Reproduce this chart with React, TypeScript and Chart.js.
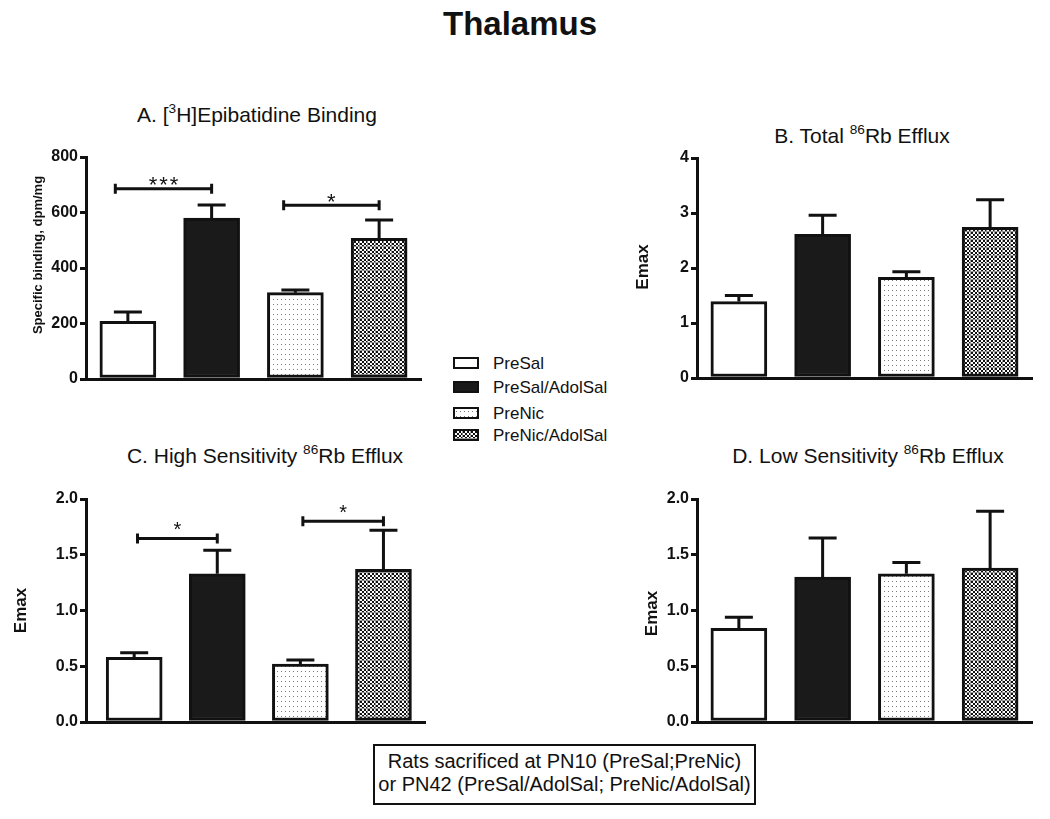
import React, { useEffect, useRef, useMemo } from 'react';
import { Chart, registerables } from 'chart.js';

Chart.register(...registerables);

const FONT = '"Liberation Sans", Arial, Helvetica, sans-serif';
const INK = '#111111';

// ---------------- data ----------------
const groups = ['PreSal', 'PreSal/AdolSal', 'PreNic', 'PreNic/AdolSal'];

const bindingMeans = [208, 580, 311, 507];
const bindingSem = [33, 47, 10, 66];
const bindingTicks = [0, 200, 400, 600, 800];

const totalEffluxMeans = [1.39, 2.61, 1.83, 2.74];
const totalEffluxSem = [0.11, 0.35, 0.1, 0.5];
const totalEffluxTicks = [0, 1, 2, 3, 4];

const highSensMeans = [0.58, 1.33, 0.52, 1.37];
const highSensSem = [0.04, 0.21, 0.035, 0.35];

const lowSensMeans = [0.84, 1.3, 1.33, 1.38];
const lowSensSem = [0.1, 0.35, 0.1, 0.51];

const sensTicks = [0, 0.5, 1.0, 1.5, 2.0];

// significance brackets: from/to = group index, shift in group units, y in data units
const bindingSig = [
  { from: 0, to: 1, fromShift: -0.15, y: 686, label: '***' },
  { from: 2, to: 3, fromShift: -0.14, y: 626, label: '*' },
];
const highSensSig = [
  { from: 0, to: 1, fromShift: 0.04, y: 1.646, label: '*' },
  { from: 2, to: 3, fromShift: 0.03, y: 1.8, label: '*' },
];

const footnoteLines = [
  'Rats sacrificed at PN10 (PreSal;PreNic)',
  'or PN42 (PreSal/AdolSal; PreNic/AdolSal)',
];

// ---------------- patterns ----------------
function makeDotTile(): HTMLCanvasElement {
  const c = document.createElement('canvas');
  c.width = 4;
  c.height = 5;
  const g = c.getContext('2d')!;
  g.fillStyle = '#ffffff';
  g.fillRect(0, 0, 4, 5);
  g.fillStyle = '#7a7a7a';
  g.fillRect(1, 2, 1, 1);
  return c;
}

function makeCheckTile(): HTMLCanvasElement {
  const c = document.createElement('canvas');
  c.width = 8;
  c.height = 8;
  const g = c.getContext('2d')!;
  g.fillStyle = '#ffffff';
  g.fillRect(0, 0, 8, 8);
  g.fillStyle = '#111111';
  for (let y = 0; y < 4; y++) {
    for (let x = 0; x < 4; x++) {
      if ((x + y) % 2 === 0) g.fillRect(x * 2, y * 2, 2, 2);
    }
  }
  g.fillStyle = 'rgba(150,150,150,0.9)';
  g.fillRect(7, 0, 1, 8);
  g.fillRect(0, 7, 8, 1);
  return c;
}

// ---------------- plugins ----------------
const errorBarPlugin = {
  id: 'errorBars',
  afterDatasetsDraw(chart: any, _args: any, opts: any) {
    const { ctx } = chart;
    const yScale = chart.scales.y;
    const meta = chart.getDatasetMeta(0);
    const ds = chart.data.datasets[0];
    ctx.save();
    ctx.strokeStyle = INK;
    ctx.lineWidth = 3;
    meta.data.forEach((bar: any, i: number) => {
      const v = ds.data[i].y;
      const top = yScale.getPixelForValue(v + opts.errors[i]);
      ctx.beginPath();
      ctx.moveTo(bar.x, bar.y);
      ctx.lineTo(bar.x, top);
      ctx.moveTo(bar.x - opts.cap, top);
      ctx.lineTo(bar.x + opts.cap, top);
      ctx.stroke();
    });
    ctx.restore();
  },
};

const bracketPlugin = {
  id: 'brackets',
  afterDatasetsDraw(chart: any, _args: any, opts: any) {
    if (!opts.items || !opts.items.length) return;
    const { ctx } = chart;
    const xs = chart.scales.x;
    const ys = chart.scales.y;
    ctx.save();
    ctx.strokeStyle = INK;
    ctx.fillStyle = INK;
    ctx.lineWidth = 3;
    opts.items.forEach((b: any) => {
      const x1 = xs.getPixelForValue(b.from + (b.fromShift || 0));
      const x2 = xs.getPixelForValue(b.to + (b.toShift || 0));
      const y = ys.getPixelForValue(b.y);
      ctx.beginPath();
      ctx.moveTo(x1, y);
      ctx.lineTo(x2, y);
      ctx.moveTo(x1, y - opts.tick);
      ctx.lineTo(x1, y + opts.tick);
      ctx.moveTo(x2, y - opts.tick);
      ctx.lineTo(x2, y + opts.tick);
      ctx.stroke();
      ctx.font = `${opts.size}px ${FONT}`;
      ctx.textAlign = 'center';
      ctx.textBaseline = 'alphabetic';
      (ctx as any).letterSpacing = opts.spacing + 'px';
      ctx.fillText(b.label, (x1 + x2) / 2 + opts.spacing / 2, y - opts.gap + 0.58 * opts.size);
    });
    ctx.restore();
  },
};

const yLabelPlugin = {
  id: 'yLabel',
  afterDraw(chart: any, _args: any, opts: any) {
    const { ctx, chartArea } = chart;
    ctx.save();
    ctx.translate(chartArea.left - opts.dx, (chartArea.top + chartArea.bottom) / 2 + opts.dy);
    ctx.rotate(-Math.PI / 2);
    ctx.font = `bold ${opts.size}px ${FONT}`;
    ctx.fillStyle = INK;
    ctx.textAlign = 'center';
    ctx.textBaseline = 'middle';
    ctx.fillText(opts.text, 0, 0);
    ctx.restore();
  },
};

// ---------------- panel ----------------
type PanelSpec = {
  means: number[];
  sem: number[];
  ticks: number[];
  decimals: number;
  sig: any[];
  area: { left: number; right: number; top: number; bottom: number };
  xMin: number;
  yLabel: string;
  yLabelSize: number;
  yLabelDx: number;
  yLabelDy: number;
  starSize: number;
  starGap: number;
  starSpacing: number;
};

const PAD_TOP = 30;
const PAD_RIGHT = 10;
const PAD_BOTTOM = 12;
const AXIS_W = 86;

function Panel({ spec, tiles }: { spec: PanelSpec; tiles: { dot: HTMLCanvasElement; check: HTMLCanvasElement } }) {
  const ref = useRef<HTMLCanvasElement>(null);
  const canvasLeft = spec.area.left - AXIS_W;
  const canvasTop = spec.area.top - PAD_TOP;
  const w = spec.area.right + PAD_RIGHT - canvasLeft;
  const h = spec.area.bottom + PAD_BOTTOM - canvasTop;

  useEffect(() => {
    const canvas = ref.current!;
    const ctx = canvas.getContext('2d')!;
    const fills = [
      '#ffffff',
      '#1a1a1a',
      ctx.createPattern(tiles.dot, 'repeat'),
      ctx.createPattern(tiles.check, 'repeat'),
    ];
    const chart = new Chart(canvas, {
      type: 'bar',
      data: {
        datasets: [
          {
            label: 'Thalamus',
            data: spec.means.map((v, i) => ({ x: i, y: v, g: groups[i] })) as any,
            backgroundColor: fills as any,
            borderColor: INK,
            borderWidth: 3,
            borderSkipped: false,
            barThickness: 56,
          },
        ],
      },
      options: {
        responsive: false,
        maintainAspectRatio: false,
        animation: false,
        events: [],
        layout: { padding: { top: PAD_TOP, right: PAD_RIGHT, bottom: PAD_BOTTOM, left: 0 } },
        plugins: {
          legend: { display: false },
          tooltip: { enabled: false },
          title: { display: false },
          errorBars: { errors: spec.sem, cap: 14 },
          brackets: {
            items: spec.sig,
            tick: 5,
            size: spec.starSize,
            gap: spec.starGap,
            spacing: spec.starSpacing,
          },
          yLabel: { text: spec.yLabel, size: spec.yLabelSize, dx: spec.yLabelDx, dy: spec.yLabelDy },
        } as any,
        scales: {
          x: {
            type: 'linear',
            min: spec.xMin,
            max: groups.length - 0.5,
            offset: false,
            ticks: { display: false },
            grid: { display: false, drawTicks: false },
            border: { display: true, color: INK, width: 3 },
            afterFit: (s: any) => {
              s.height = 0;
            },
          },
          y: {
            type: 'linear',
            min: spec.ticks[0],
            max: spec.ticks[spec.ticks.length - 1],
            afterBuildTicks: (s: any) => {
              s.ticks = spec.ticks.map((v) => ({ value: v }));
            },
            ticks: {
              font: { family: FONT, size: 16, weight: 'bold' },
              color: INK,
              padding: 2,
              callback: (v: any) => Number(v).toFixed(spec.decimals),
            },
            grid: {
              drawOnChartArea: false,
              drawTicks: true,
              tickLength: 6,
              tickWidth: 3,
              tickColor: INK,
              color: INK,
              lineWidth: 3,
            },
            border: { display: true, color: INK, width: 3 },
            afterFit: (s: any) => {
              s.width = AXIS_W;
            },
          },
        } as any,
      },
      plugins: [errorBarPlugin, bracketPlugin, yLabelPlugin],
    });
    return () => chart.destroy();
  }, []);

  return (
    <canvas
      ref={ref}
      width={w}
      height={h}
      style={{ position: 'absolute', left: canvasLeft, top: canvasTop, width: w, height: h }}
    />
  );
}

const panels: PanelSpec[] = [
  {
    means: bindingMeans,
    sem: bindingSem,
    ticks: bindingTicks,
    decimals: 0,
    sig: bindingSig,
    area: { left: 86, right: 421, top: 157, bottom: 379 },
    xMin: -0.5,
    yLabel: 'Specific binding, dpm/mg',
    yLabelSize: 13,
    yLabelDx: 48,
    yLabelDy: -13,
    starSize: 22,
    starGap: 9.5,
    starSpacing: 2,
  },
  {
    means: totalEffluxMeans,
    sem: totalEffluxSem,
    ticks: totalEffluxTicks,
    decimals: 0,
    sig: [],
    area: { left: 697, right: 1032, top: 158, bottom: 378 },
    xMin: -0.5,
    yLabel: 'Emax',
    yLabelSize: 17,
    yLabelDx: 54,
    yLabelDy: -1,
    starSize: 20,
    starGap: 10,
    starSpacing: 0,
  },
  {
    means: highSensMeans,
    sem: highSensSem,
    ticks: sensTicks,
    decimals: 1,
    sig: highSensSig,
    area: { left: 86, right: 425, top: 499, bottom: 722 },
    xMin: -0.58,
    yLabel: 'Emax',
    yLabelSize: 17,
    yLabelDx: 64.5,
    yLabelDy: 0,
    starSize: 20,
    starGap: 14,
    starSpacing: 0,
  },
  {
    means: lowSensMeans,
    sem: lowSensSem,
    ticks: sensTicks,
    decimals: 1,
    sig: [],
    area: { left: 697, right: 1032, top: 499, bottom: 722 },
    xMin: -0.5,
    yLabel: 'Emax',
    yLabelSize: 17,
    yLabelDx: 45,
    yLabelDy: 3,
    starSize: 20,
    starGap: 10,
    starSpacing: 0,
  },
];

const panelTitles = [
  { pre: 'A. [', sup: '3', post: 'H]Epibatidine Binding', cx: 257, top: 104 },
  { pre: 'B. Total ', sup: '86', post: 'Rb Efflux', cx: 862, top: 125 },
  { pre: 'C. High Sensitivity ', sup: '86', post: 'Rb Efflux', cx: 265, top: 445 },
  { pre: 'D. Low Sensitivity ', sup: '86', post: 'Rb Efflux', cx: 868, top: 445 },
];

const legendRows = [363, 387, 413, 435];

export default function App() {
  const tiles = useMemo(() => ({ dot: makeDotTile(), check: makeCheckTile() }), []);
  const swatchBg = useMemo(
    () => [
      { backgroundColor: '#ffffff' },
      { backgroundColor: '#1a1a1a' },
      { backgroundImage: `url(${tiles.dot.toDataURL()})` },
      { backgroundImage: `url(${tiles.check.toDataURL()})` },
    ],
    [tiles]
  );

  return (
    <div
      style={{
        position: 'absolute',
        left: 0,
        top: 0,
        width: 1050,
        height: 819,
        background: '#ffffff',
        overflow: 'hidden',
        fontFamily: FONT,
        color: INK,
      }}
    >
      <div
        style={{
          position: 'absolute',
          left: 320,
          width: 400,
          top: 7,
          textAlign: 'center',
          fontSize: 33,
          lineHeight: '33px',
          fontWeight: 'bold',
        }}
      >
        Thalamus
      </div>

      {panelTitles.map((t, i) => (
        <div
          key={i}
          style={{
            position: 'absolute',
            left: t.cx - 250,
            width: 500,
            top: t.top,
            textAlign: 'center',
            fontSize: 21,
            lineHeight: '21px',
            whiteSpace: 'nowrap',
          }}
        >
          {t.pre}
          <span style={{ fontSize: '0.65em', position: 'relative', top: '-0.65em' }}>{t.sup}</span>
          {t.post}
        </div>
      ))}

      {panels.map((p, i) => (
        <Panel key={i} spec={p} tiles={tiles} />
      ))}

      {groups.map((g, i) => (
        <React.Fragment key={g}>
          <div
            style={{
              position: 'absolute',
              left: 453,
              top: legendRows[i] - 6,
              width: 26,
              height: 12,
              boxSizing: 'border-box',
              border: `2.5px solid ${INK}`,
              ...swatchBg[i],
            }}
          />
          <div
            style={{
              position: 'absolute',
              left: 493,
              top: legendRows[i] + 6 - 14.4,
              fontSize: 17,
              lineHeight: '17px',
              whiteSpace: 'nowrap',
            }}
          >
            {g}
          </div>
        </React.Fragment>
      ))}

      <div
        style={{
          position: 'absolute',
          left: 373,
          top: 744,
          width: 383,
          height: 61,
          boxSizing: 'border-box',
          border: `2px solid ${INK}`,
          paddingTop: 4,
          textAlign: 'center',
          fontSize: 20,
          lineHeight: '23px',
          whiteSpace: 'nowrap',
        }}
      >
        {footnoteLines.map((l, i) => (
          <div key={i}>{l}</div>
        ))}
      </div>
    </div>
  );
}
